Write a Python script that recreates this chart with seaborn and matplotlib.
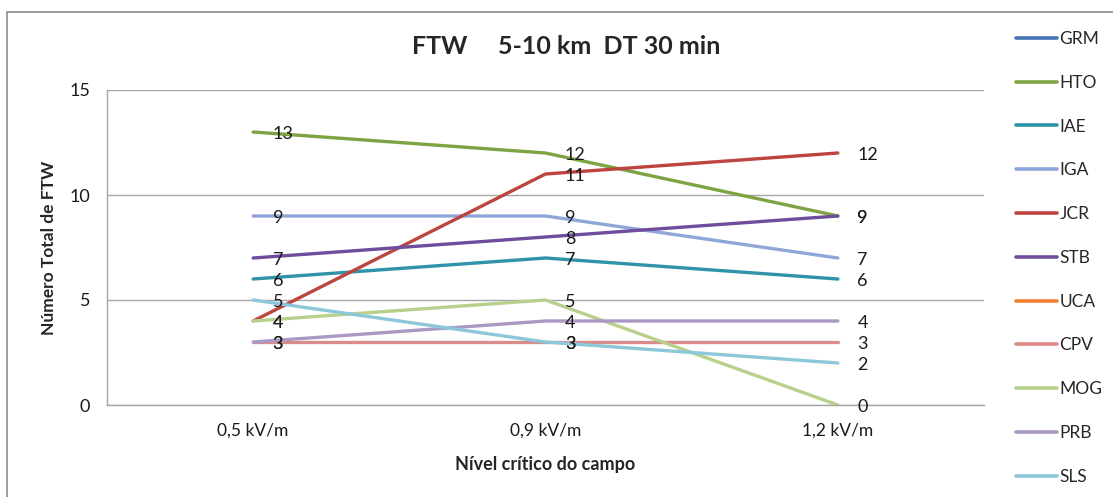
import pandas as pd
import matplotlib
matplotlib.use("Agg")
import matplotlib.pyplot as plt
import seaborn as sns
from matplotlib.lines import Line2D
from matplotlib.patches import Rectangle

# category axis and series (GRM and UCA have no points in the chart)
niveis = ['0,5 kV/m', '0,9 kV/m', '1,2 kV/m']
series = ['GRM', 'HTO', 'IAE', 'IGA', 'JCR', 'STB', 'UCA', 'CPV', 'MOG', 'PRB', 'SLS']
hto = [13, 12, 9]
iae = [6, 7, 6]
iga = [9, 9, 7]
jcr = [4, 11, 12]
stb = [7, 8, 9]
cpv = [3, 3, 3]
mog = [4, 5, 0]
prb = [3, 4, 4]
sls = [5, 3, 2]

cores = {
    'GRM': '#4674B5', 'HTO': '#7DA342', 'IAE': '#2F93A9', 'IGA': '#8EA7D8',
    'JCR': '#BE4440', 'STB': '#6E4E9C', 'UCA': '#EE7F2D', 'CPV': '#D98C8A',
    'MOG': '#B7D08C', 'PRB': '#AA98C5', 'SLS': '#8CC7DA',
}

valores = {'HTO': hto, 'IAE': iae, 'IGA': iga, 'JCR': jcr, 'STB': stb,
           'CPV': cpv, 'MOG': mog, 'PRB': prb, 'SLS': sls}

rows = []
for s, vals in valores.items():
    for i, v in enumerate(vals):
        rows.append({'serie': s, 'pos': i, 'nivel': niveis[i], 'ftw': v})
df = pd.DataFrame(rows)

sns.set_theme(style="white")
plt.rcParams['font.family'] = ['Lato', 'DejaVu Sans']

W, H = 1113, 497
fig = plt.figure(figsize=(W / 100, H / 100), dpi=100)
ax = fig.add_axes([107 / W, 1 - 405 / H, (984 - 107) / W, (405 - 90) / H])

# chart area border (only top/left visible in the original crop)
fig.patches.append(Rectangle((7 / W, -0.05), 1.2, 1 - 12 / H + 0.05, transform=fig.transFigure,
                             fill=False, edgecolor='#8c8c8c', linewidth=1.2))

order = [s for s in series if s in valores]
sns.lineplot(data=df, x='pos', y='ftw', hue='serie', hue_order=order,
             palette=cores, linewidth=2.4, legend=False, sort=False, ax=ax)

# data labels to the right of each point
for s in order:
    for i, v in enumerate(valores[s]):
        ax.annotate(str(v), (i, v), xytext=(14, -1.5), textcoords='offset points',
                    ha='left', va='center', fontsize=13, color='#1a1a1a')

ax.set_xlim(-0.5, 2.5)
ax.set_ylim(0, 15)
ax.set_yticks([0, 5, 10, 15])
ax.set_xticks([0, 1, 2])
ax.set_xticklabels(niveis, fontsize=12.5)
ax.set_xticks([-0.5, 0.5, 1.5, 2.5], minor=True)
ax.tick_params(axis='x', which='major', length=0, pad=13, colors='#1a1a1a')
ax.tick_params(axis='x', which='minor', length=5, width=1, color='#8c8c8c', direction='out')
ax.tick_params(axis='y', length=5, width=1, color='#8c8c8c', direction='out',
               labelsize=13, labelcolor='#1a1a1a', pad=7)
ax.yaxis.grid(True, color='#a6a6a6', linewidth=1)
for sp in ['top', 'right']:
    ax.spines[sp].set_visible(False)
for sp in ['left', 'bottom']:
    ax.spines[sp].set_color('#a6a6a6')
    ax.spines[sp].set_linewidth(1)

ax.set_xlabel('Nível crítico do campo', fontsize=13, fontweight='bold', labelpad=12)
ax.set_ylabel('Número Total de FTW', fontsize=12.5, fontweight='bold', labelpad=9)

fig.text(566 / W, 1 - 47 / H, 'FTW     5-10 km  DT 30 min', ha='center', va='center',
         fontsize=18, fontweight='bold')

handles = [Line2D([0], [0], color=cores[s], linewidth=2.6) for s in series]
fig.legend(handles, series, loc='upper left', bbox_to_anchor=(1009 / W, 1 - 24 / H),
           frameon=False, fontsize=12.5, handlelength=2.35, handletextpad=0.15,
           labelspacing=1.6, borderaxespad=0)

fig.savefig('out.png', dpi=100)
